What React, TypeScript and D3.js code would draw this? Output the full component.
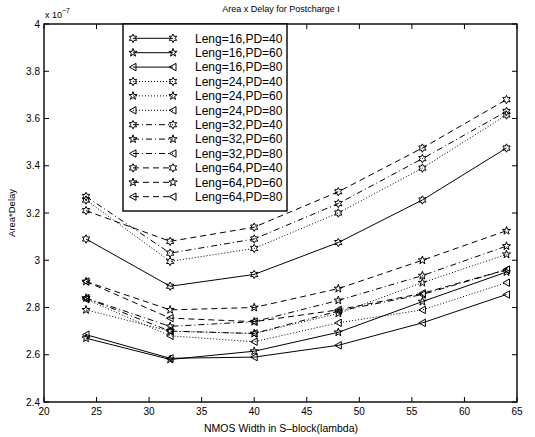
import { useEffect, useRef } from 'react'
import * as d3 from 'd3'

// NMOS widths on the x axis
const widths = [24, 32, 40, 48, 56, 64]

// Area*Delay values, in units of 1e-7
const leng16pd40 = [3.09, 2.89, 2.94, 3.075, 3.255, 3.475]
const leng16pd60 = [2.67, 2.58, 2.615, 2.695, 2.825, 2.95]
const leng16pd80 = [2.685, 2.585, 2.59, 2.64, 2.735, 2.855]
const leng24pd40 = [3.255, 2.995, 3.05, 3.2, 3.39, 3.615]
const leng24pd60 = [2.79, 2.7, 2.69, 2.775, 2.905, 3.025]
const leng24pd80 = [2.835, 2.68, 2.655, 2.735, 2.79, 2.905]
const leng32pd40 = [3.27, 3.03, 3.09, 3.24, 3.43, 3.63]
const leng32pd60 = [2.84, 2.72, 2.74, 2.83, 2.935, 3.06]
const leng32pd80 = [2.84, 2.7, 2.69, 2.785, 2.855, 2.96]
const leng64pd40 = [3.21, 3.08, 3.14, 3.29, 3.475, 3.68]
const leng64pd60 = [2.91, 2.79, 2.8, 2.88, 3.0, 3.125]
const leng64pd80 = [2.91, 2.755, 2.74, 2.79, 2.86, 2.96]

const xTicks = [20, 25, 30, 35, 40, 45, 50, 55, 60, 65]
const yTicks = [2.4, 2.6, 2.8, 3, 3.2, 3.4, 3.6, 3.8, 4]

const series = [
  { label: 'Leng=16,PD=40', values: leng16pd40, dash: null, marker: 'hex' },
  { label: 'Leng=16,PD=60', values: leng16pd60, dash: null, marker: 'star' },
  { label: 'Leng=16,PD=80', values: leng16pd80, dash: null, marker: 'tri' },
  { label: 'Leng=24,PD=40', values: leng24pd40, dash: '1,2', marker: 'hex' },
  { label: 'Leng=24,PD=60', values: leng24pd60, dash: '1,2', marker: 'star' },
  { label: 'Leng=24,PD=80', values: leng24pd80, dash: '1,2', marker: 'tri' },
  { label: 'Leng=32,PD=40', values: leng32pd40, dash: '6,3,1,3', marker: 'hex' },
  { label: 'Leng=32,PD=60', values: leng32pd60, dash: '6,3,1,3', marker: 'star' },
  { label: 'Leng=32,PD=80', values: leng32pd80, dash: '6,3,1,3', marker: 'tri' },
  { label: 'Leng=64,PD=40', values: leng64pd40, dash: '6,4', marker: 'hex' },
  { label: 'Leng=64,PD=60', values: leng64pd60, dash: '6,4', marker: 'star' },
  { label: 'Leng=64,PD=80', values: leng64pd80, dash: '6,4', marker: 'tri' },
]

function starPath(points: number, outer: number, inner: number) {
  const pts: [number, number][] = []
  for (let i = 0; i < points * 2; i++) {
    const r = i % 2 === 0 ? outer : inner
    const a = -Math.PI / 2 + (i * Math.PI) / points
    pts.push([r * Math.cos(a), r * Math.sin(a)])
  }
  return d3.line()(pts) + 'Z'
}

function markerPath(kind: string) {
  if (kind === 'hex') return starPath(6, 4.2, 2.3)
  if (kind === 'star') return starPath(5, 4.3, 1.7)
  return d3.line()([[-3.6, 0], [3, -3.7], [3, 3.7]]) + 'Z'
}

export default function App() {
  const ref = useRef<SVGSVGElement>(null)

  useEffect(() => {
    if (!ref.current) return
    const width = 535, height = 437
    const svg = d3.select(ref.current)
    svg.selectAll('*').remove()

    const x = d3.scaleLinear().domain([20, 65]).range([44, 517])
    const y = d3.scaleLinear().domain([2.4, 4]).range([402, 24])
    const font = '"Liberation Sans", Arial, Helvetica, sans-serif'

    svg.append('rect').attr('width', width).attr('height', height).attr('fill', '#fff')

    // data lines
    const line = d3.line<number>()
      .x((d, i) => x(widths[i]))
      .y(d => y(d))

    series.forEach(s => {
      svg.append('path')
        .datum(s.values)
        .attr('fill', 'none')
        .attr('stroke', '#000')
        .attr('stroke-width', 1)
        .attr('stroke-dasharray', s.dash)
        .attr('d', line)

      svg.append('g')
        .selectAll('path')
        .data(s.values)
        .join('path')
        .attr('transform', (d, i) => `translate(${x(widths[i])},${y(d)})`)
        .attr('d', markerPath(s.marker))
        .attr('fill', 'none')
        .attr('stroke', '#000')
        .attr('stroke-width', 1)
    })

    // axes box with inward ticks
    const [x0, x1] = x.range()
    const [y0, y1] = y.range()
    const tickLen = 5
    const axes = svg.append('g').attr('stroke', '#000').attr('stroke-width', 1)
    xTicks.forEach(t => {
      axes.append('line').attr('x1', x(t)).attr('x2', x(t)).attr('y1', y0).attr('y2', y0 - tickLen)
      axes.append('line').attr('x1', x(t)).attr('x2', x(t)).attr('y1', y1).attr('y2', y1 + tickLen)
    })
    yTicks.forEach(t => {
      axes.append('line').attr('x1', x0).attr('x2', x0 + tickLen).attr('y1', y(t)).attr('y2', y(t))
      axes.append('line').attr('x1', x1).attr('x2', x1 - tickLen).attr('y1', y(t)).attr('y2', y(t))
    })
    axes.append('rect')
      .attr('x', x0).attr('y', y1)
      .attr('width', x1 - x0).attr('height', y0 - y1)
      .attr('fill', 'none')
      .attr('stroke-width', 1.4)

    svg.append('g')
      .selectAll('text')
      .data(xTicks)
      .join('text')
      .attr('x', d => x(d))
      .attr('y', y0 + 13)
      .attr('text-anchor', 'middle')
      .style('font', `10px ${font}`)
      .text(d => d)

    svg.append('g')
      .selectAll('text')
      .data(yTicks)
      .join('text')
      .attr('x', x0 - 4)
      .attr('y', d => y(d))
      .attr('dy', '0.35em')
      .attr('text-anchor', 'end')
      .style('font', `10px ${font}`)
      .text(d => d3.format('.1f')(d).replace(/\.0$/, ''))

    // exponent label
    const expo = svg.append('text').attr('x', x0 + 1).attr('y', 18).style('font', `9px ${font}`)
    expo.append('tspan').text('x 10')
    expo.append('tspan').attr('dy', -5).style('font-size', '7px').text('\u22127')

    svg.append('text')
      .attr('x', 281).attr('y', 12)
      .attr('text-anchor', 'middle')
      .style('font', `9px ${font}`)
      .text('Area x Delay for Postcharge I')

    svg.append('text')
      .attr('x', 281).attr('y', 432)
      .attr('text-anchor', 'middle')
      .style('font', `10.5px ${font}`)
      .text('NMOS Width in S\u2013block(lambda)')

    svg.append('text')
      .attr('transform', `translate(15,${(y0 + y1) / 2}) rotate(-90)`)
      .attr('text-anchor', 'middle')
      .style('font', `9.5px ${font}`)
      .text('Area*Delay')

    // legend
    const lg = svg.append('g')
    lg.append('rect')
      .attr('x', 123).attr('y', 24)
      .attr('width', 164).attr('height', 187)
      .attr('fill', '#fff')
      .attr('stroke', '#000')
      .attr('stroke-width', 1.4)

    series.forEach((s, i) => {
      const ly = 38.3 + i * 14.4
      lg.append('line')
        .attr('x1', 133).attr('x2', 173)
        .attr('y1', ly).attr('y2', ly)
        .attr('stroke', '#000')
        .attr('stroke-dasharray', s.dash)
      ;[133, 173].forEach(mx => {
        lg.append('path')
          .attr('transform', `translate(${mx},${ly})`)
          .attr('d', markerPath(s.marker))
          .attr('fill', 'none')
          .attr('stroke', '#000')
          .attr('stroke-width', 1)
      })
      lg.append('text')
        .attr('x', 195).attr('y', ly)
        .attr('dy', '0.36em')
        .style('font', `12px ${font}`)
        .text(s.label)
    })
  }, [])

  return (
    <svg
      ref={ref}
      width={535}
      height={437}
      style={{ position: 'absolute', left: 0, top: 0, display: 'block' }}
    />
  )
}
